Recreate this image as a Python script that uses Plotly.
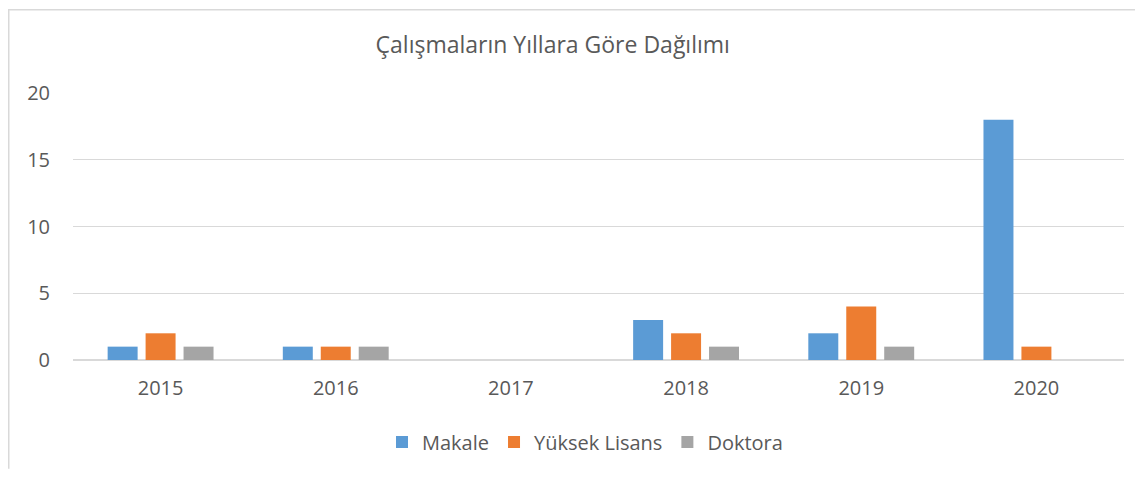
import plotly.graph_objects as go

years = ["2015", "2016", "2017", "2018", "2019", "2020"]
makale = [1, 1, 0, 3, 2, 18]
yuksek_lisans = [2, 1, 0, 2, 4, 1]
doktora = [1, 1, 0, 1, 1, 0]

series = [
    ("Makale", makale, "#5B9BD5"),
    ("Yüksek Lisans", yuksek_lisans, "#ED7D31"),
    ("Doktora", doktora, "#A5A5A5"),
]

fig = go.Figure()
for name, vals, col in series:
    fig.add_trace(go.Bar(x=years, y=vals, name=name, marker=dict(color=col, line=dict(width=0))))

# the page body adds an 8px margin; figure coordinates = screen - 8
W, H = 1127, 465
L, T = 65, 85
R = W - 1116
B = H - 355
pw, ph = W - L - R, H - T - B

def px(x):
    return (x - L) / pw

def py(y):
    return (H - B - y) / ph

fig.update_layout(
    width=W, height=H,
    margin=dict(l=L, r=R, t=T, b=B, pad=0),
    paper_bgcolor="white", plot_bgcolor="white",
    font=dict(family="Open Sans", color="#595959", size=20),
    title=dict(text="Çalışmaların Yıllara Göre Dağılımı", x=px(573), xanchor="center",
               y=1 - 37 / H, yanchor="middle", font=dict(size=23, color="#595959")),
    barmode="group", bargap=0.35, bargroupgap=0.21,
    showlegend=True,
    legend=dict(orientation="h", x=px(577), xanchor="center", y=py(438), yanchor="middle",
                font=dict(size=20, color="#595959"), itemwidth=30, traceorder="normal"),
    xaxis=dict(showgrid=False, showline=False, ticks="", tickfont=dict(size=20),
               ticklabelstandoff=14),
    yaxis=dict(range=[0, 20], dtick=5, showgrid=True, gridcolor="#D9D9D9", gridwidth=1,
               zeroline=True, zerolinecolor="#D9D9D9", zerolinewidth=1.5,
               showline=False, ticks="", tickfont=dict(size=20), ticklabelstandoff=22),
    shapes=[
        dict(type="line", xref="paper", yref="paper", x0=px(0), x1=px(W), y0=py(0.75), y1=py(0.75),
             line=dict(color="#D9D9D9", width=1.5)),
        dict(type="line", xref="paper", yref="paper", x0=px(0.75), x1=px(0.75), y0=py(0), y1=py(H),
             line=dict(color="#D9D9D9", width=1.5)),
    ],
)
fig.write_html("out.html")
